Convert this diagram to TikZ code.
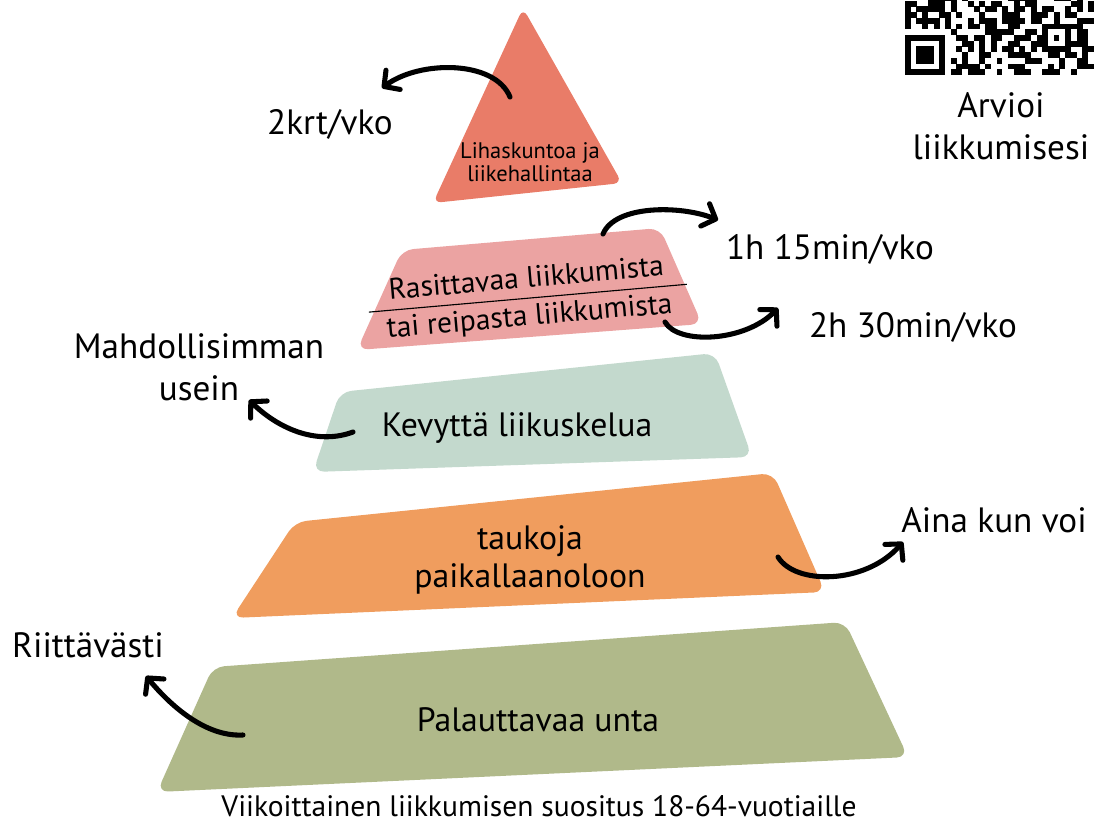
\documentclass[tikz,border=0pt]{standalone}
\usepackage{fontspec}
\setmainfont{PT Sans}
\usetikzlibrary{arrows.meta}
\definecolor{lihas}{HTML}{E97C68}
\definecolor{rasit}{HTML}{EBA3A2}
\definecolor{kevyt}{HTML}{C3D9CD}
\definecolor{tauko}{HTML}{F09D5E}
\definecolor{uni}{HTML}{B0B98A}
\tikzset{
  lbl/.style={align=center, font=\fontsize{25}{30}\selectfont},
  inlbl/.style={align=center, font=\fontsize{24}{27}\selectfont},
  midlbl/.style={align=center, font=\fontsize{21}{24}\selectfont, inner sep=0pt},
  smlbl/.style={align=center, font=\fontsize{16}{16}\selectfont},
  arr/.style={line width=3.6pt, line cap=round, -{Straight Barb[round,length=8pt,width=17pt]}},
}
\begin{document}
\begin{tikzpicture}[x=0.025cm,y=-0.025cm]
    \useasboundingbox (0,0) rectangle (1094,823);
    \fill [lihas, rounded corners=6pt] (523,8)--(622,183)--(433,203)--cycle;
    \fill [rasit, rounded corners=8pt] (402,250)--(660,228)--(702,324)--(357,350)--cycle;
    \fill [kevyt, rounded corners=8pt] (340,392)--(715,353)--(752,457)--(313,472)--cycle;
    \fill [tauko, rounded corners=8pt] (295,522)--(773,473)--(825,592)--(232,618)--cycle;
    \fill [uni, rounded corners=8pt] (213,667)--(845,622)--(908,757)--(157,792)--cycle;

    \begin{scope}
      \clip (0,0) rectangle (1094,823);
      \foreach \r in {19,...,32}{
        \foreach \c in {0,...,32}{
          \pgfmathtruncatemacro{\bit}{mod(int(abs(sin(\r*37.7+\c*113.3+\r*\c*7.1))*1000),2)}
          \ifnum\bit=1 \fill (905+\c*5.72,-113.76+\r*5.72) rectangle ++(5.9,5.9); \fi
        }
      }
      \fill [white] (905,-113.76+25*5.72) rectangle ++(8*5.72,8*5.72);
      \fill (905,-113.76+26*5.72) rectangle ++(7*5.72,7*5.72);
      \fill [white] (905+5.72,-113.76+27*5.72) rectangle ++(5*5.72,5*5.72);
      \fill (905+2*5.72,-113.76+28*5.72) rectangle ++(3*5.72,3*5.72);
      \fill (905+24*5.72,-113.76+24*5.72) rectangle ++(5*5.72,5*5.72);
      \fill [white] (905+25*5.72,-113.76+25*5.72) rectangle ++(3*5.72,3*5.72);
      \fill (905+26*5.72,-113.76+26*5.72) rectangle ++(5.72,5.72);
    \end{scope}

    \node [smlbl] (lihas) at (530,162) {Lihaskuntoa ja\\liikehallintaa};
    \node [midlbl, rotate=5] (rasit) at (528,299) {Rasittavaa liikkumista\\[-16pt]\rule{227pt}{0.8pt}\\[-5pt]tai reipasta liikkumista};
    \node [inlbl] (kevyt) at (517,428) {Kevyttä liikuskelua};
    \node [inlbl] (tauko) at (530,560) {taukoja\\paikallaanoloon};
    \node [inlbl] (uni) at (538,720) {Palauttavaa unta};

    \node [lbl] (krt) at (330,124) {2krt/vko};
    \node [lbl] (h1) at (830,249) {1h 15min/vko};
    \node [lbl] (h2) at (913,327) {2h 30min/vko};
    \node [lbl] (usein) at (199,367) {Mahdollisimman\\usein};
    \node [lbl] (aina) at (994,520) {Aina kun voi};
    \node [lbl] (riitt) at (88,645) {Riittävästi};
    \node [lbl] (arvioi) at (1001,126) {Arvioi\\liikkumisesi};
    \node [font=\fontsize{21}{24}\selectfont] (otsikko) at (539,806) {Viikoittainen liikkumisen suositus 18-64-vuotiaille};

    \coordinate (a1) at (510,97);   \coordinate (b1) at (382,88);
    \coordinate (a2) at (603,234);  \coordinate (b2) at (718,220);
    \coordinate (a3) at (665,322);  \coordinate (b3) at (778,308);
    \coordinate (a4) at (353,432);  \coordinate (b4) at (249,400);
    \coordinate (a5) at (778,557);  \coordinate (b5) at (903,542);
    \coordinate (a6) at (243,735);  \coordinate (b6) at (146,676);
    \draw [arr] (a1) .. controls (495,60) and (420,60) .. (b1);
    \draw [arr] (a2) .. controls (615,205) and (680,205) .. (b2);
    \draw [arr] (a3) .. controls (678,345) and (745,342) .. (b3);
    \draw [arr] (a4) .. controls (318,445) and (280,430) .. (b4);
    \draw [arr] (a5) .. controls (795,585) and (865,585) .. (b5);
    \draw [arr] (a6) .. controls (205,737) and (170,705) .. (b6);
\end{tikzpicture}
\end{document}
